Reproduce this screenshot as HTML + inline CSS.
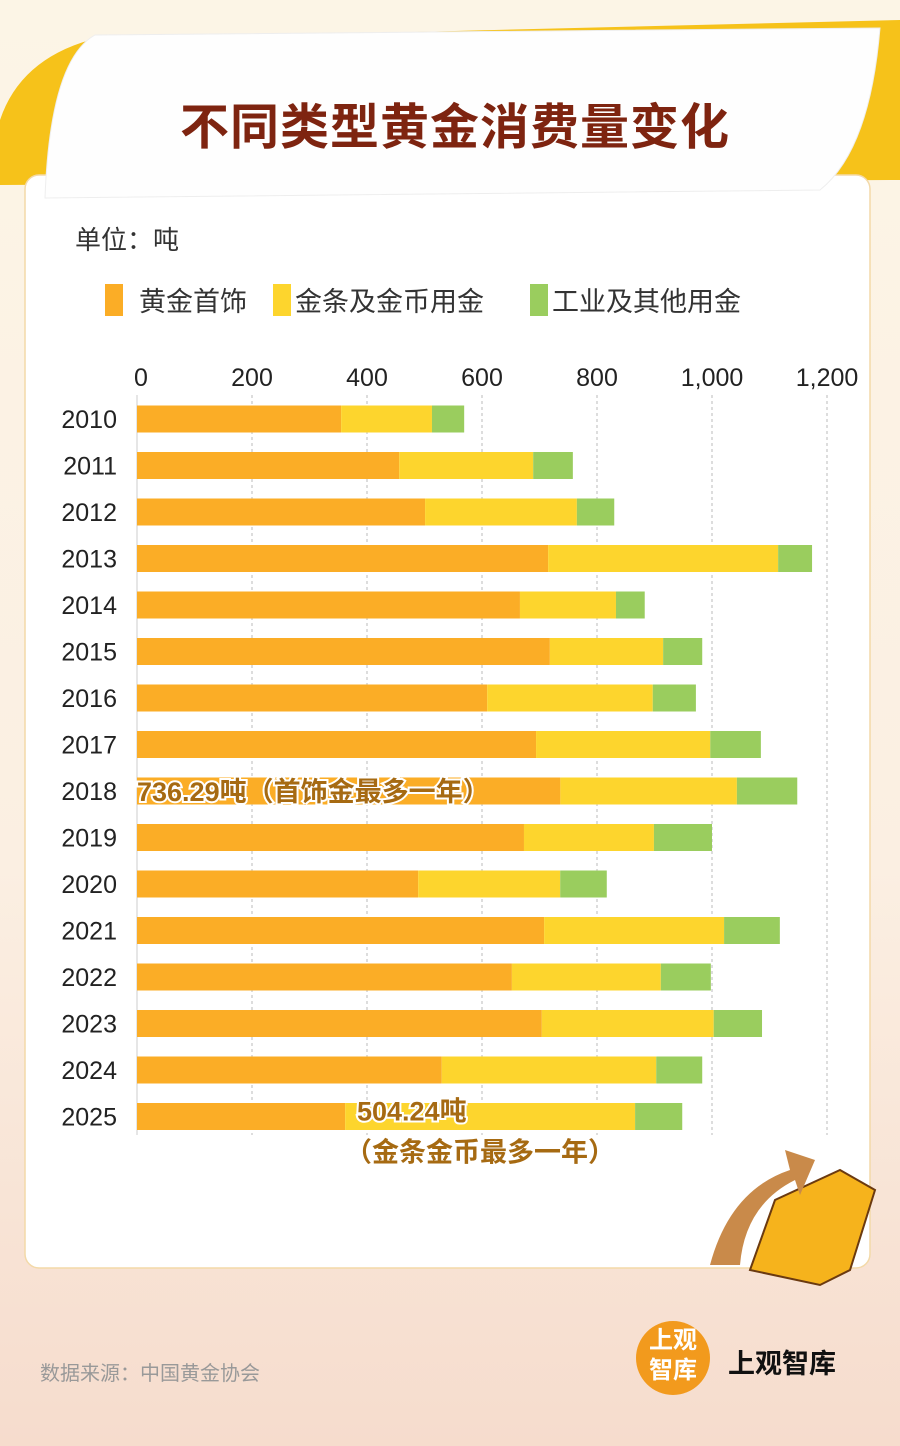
<!DOCTYPE html>
<html><head><meta charset="utf-8">
<style>
body{margin:0;width:900px;height:1446px;overflow:hidden;font-family:"Liberation Sans","Noto Sans CJK SC",sans-serif;}
#root{position:relative;width:900px;height:1446px;background:linear-gradient(#fcf5e6 0%,#fbefe2 60%,#f6dccd 100%);}
.abs{position:absolute;}
</style></head><body>
<div id="root">
<svg class="abs" style="left:0;top:0" width="900" height="1446">
  <path d="M0 120 Q20 60 90 40 L900 20 L900 180 L0 185 Z" fill="#f6c21a"/>
  <rect x="25" y="175" width="845" height="1093" rx="14" fill="#fff" stroke="#f3d9a8" stroke-width="1.5"/>
  <path d="M95 35 L880 28 Q870 150 820 190 L45 198 Q50 60 95 35 Z" fill="#fefefe" stroke="#eee"/>
  <g>
    <path d="M750 1270 L775 1200 L840 1170 L875 1190 L850 1270 L820 1285 Z" fill="#f6b31c" stroke="#6b3a10" stroke-width="2"/>
    <path d="M710 1265 Q730 1190 790 1170 L785 1150 L815 1160 L800 1195 L795 1180 Q745 1205 740 1265 Z" fill="#c98a4a"/>
  </g>
  <circle cx="673" cy="1358" r="37" fill="#f29a1d"/>
</svg>
<div class="abs" style="left:0;width:910px;top:88px;text-align:center;font-size:49px;font-weight:bold;color:#7e2410;letter-spacing:1px">不同类型黄金消费量变化</div>
<div class="abs" style="left:75px;top:220px;font-size:26px;color:#333">单位：吨</div>
<div class="abs" style="left:105px;top:280px;font-size:27px;color:#333;display:flex;align-items:center">
  <span style="display:inline-block;width:18px;height:32px;background:#fbad26;margin-right:16px"></span><span>黄金首饰</span>
  <span style="display:inline-block;width:18px;height:32px;background:#fdd52d;margin:0 4px 0 26px"></span><span>金条及金币用金</span>
  <span style="display:inline-block;width:18px;height:32px;background:#9acd5e;margin:0 4px 0 46px"></span><span>工业及其他用金</span>
</div>
<svg id="chart" class="abs" style="left:0;top:0" width="900" height="1446"></svg>
<div class="abs" style="left:40px;top:1357px;font-size:20px;color:#999">数据来源：中国黄金协会</div>
<div class="abs" style="left:645px;top:1326px;width:56px;font-size:24px;line-height:30px;color:#fff;font-weight:bold;text-align:center">上观<br>智库</div>
<div class="abs" style="left:728px;top:1342px;font-size:27px;font-weight:bold;color:#111">上观智库</div>
<script>
const years=["2010","2011","2012","2013","2014","2015","2016","2017","2018","2019","2020","2021","2022","2023","2024","2025"];
const jewelry=[355,456,501,715,666,718,609,694,736.29,673,489,708,652,704,530,362];
const barCoin=[158,233,264,400,167,197,288,303,307,226,247,313,259,299,373,504.24];
const industry=[56,69,65,59,50,68,75,88,105,101,81,97,87,84,80,82];
const ticks=[0,200,400,600,800,1000,1200];
const tickLabels=["0","200","400","600","800","1,000","1,200"];
const svg=document.getElementById('chart');const NS="http://www.w3.org/2000/svg";
const x=v=>137+v*0.575;const y=i=>419+i*46.5;
function mk(t,a){const e=document.createElementNS(NS,t);for(const k in a)e.setAttribute(k,a[k]);svg.appendChild(e);return e;}
ticks.forEach((t,i)=>{
  const l=mk('line',{x1:x(t),x2:x(t),y1:395,y2:1135,stroke:i?'#bbb':'#ccc','stroke-dasharray':i?'3,3':''});
  
  
  const tx=mk('text',{x:x(t)+(i?0:4),y:386,'font-size':25,fill:'#222','text-anchor':'middle'});tx.textContent=tickLabels[i];
  
  
});
const cols=['#fbad26','#fdd52d','#9acd5e'];
years.forEach((yr,i)=>{
  const lb=mk('text',{x:117,y:y(i)+9,'font-size':25,fill:'#222','text-anchor':'end'});lb.textContent=yr;
  
  
  let s=0;[jewelry[i],barCoin[i],industry[i]].forEach((v,k)=>{
    const r=mk('rect',{x:x(s),y:y(i)-13.5,width:v*0.575,height:27,fill:cols[k]});
    
    
    s+=v;});
});
function note(txt,xx,yy,name){const t=mk('text',{x:xx,y:yy,'font-size':27,'font-weight':'bold',fill:'#a66a12',stroke:'#fff','stroke-width':4,'paint-order':'stroke'});t.textContent=txt;
  
  return t;}
note(jewelry[8]+'吨（首饰金最多一年）',137,y(8)+10,'annotation-2018');
note(barCoin[15]+'吨',357,y(15)+4,'annotation-2025');
note('（金条金币最多一年）',345,y(15)+45,'annotation-2025-note');
</script>
</div></body></html>
